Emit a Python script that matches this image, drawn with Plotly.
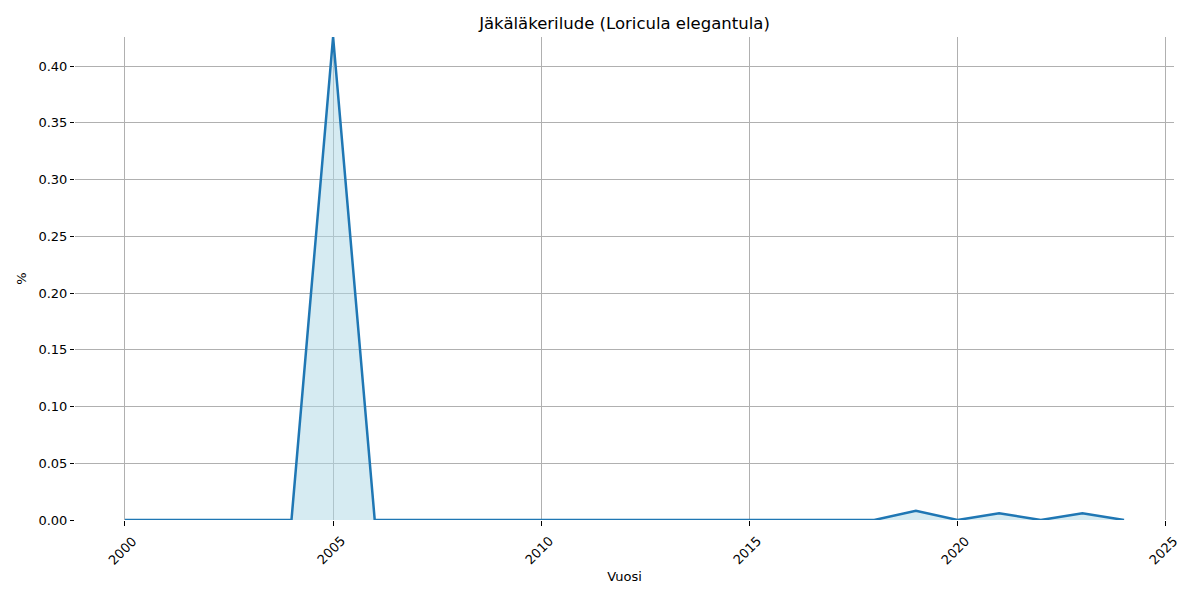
import plotly.graph_objects as go

years = list(range(2000, 2025))
values = [0, 0, 0, 0, 0, 0.4256, 0, 0, 0, 0, 0, 0, 0, 0, 0, 0, 0, 0, 0,
          0.0082, 0, 0.0059, 0, 0.0059, 0]
x_ticks = [2000, 2005, 2010, 2015, 2020, 2025]
y_ticks = [0.0, 0.05, 0.10, 0.15, 0.20, 0.25, 0.30, 0.35, 0.40]

fig = go.Figure()
fig.add_trace(go.Scatter(
    x=years, y=values, mode="lines",
    line=dict(color="#1f77b4", width=2.5),
    fill="tozeroy", fillcolor="rgba(173,216,230,0.5)",
    hoverinfo="x+y", showlegend=False,
))

font = "DejaVu Sans, sans-serif"
W, H = 1192, 592

# rotated x tick labels centred under their ticks (matplotlib style)
for t in x_ticks:
    fig.add_annotation(x=t, xref="x", y=0, yref="paper", text=str(t),
                       textangle=-45, showarrow=False, xanchor="center",
                       yanchor="top", yshift=-11, xshift=-2,
                       font=dict(size=13, family=font, color="black"))

fig.update_layout(
    width=W, height=H,
    margin=dict(l=67, r=26, t=29, b=80, autoexpand=False),
    plot_bgcolor="white", paper_bgcolor="white",
    font=dict(family=font, size=13, color="black"),
    title=dict(text="Jäkäläkerilude (Loricula elegantula)", x=(67 + (W - 26 - 67) / 2) / W,
               xanchor="center", y=1 - 15 / H, yanchor="middle",
               font=dict(size=16.5, family=font)),
    xaxis=dict(
        range=[1998.8, 2025.2], tickvals=x_ticks, showticklabels=False,
        showgrid=True, gridcolor="#b0b0b0", gridwidth=1,
        ticks="outside", ticklen=5, tickcolor="black", showline=False, zeroline=False,
        automargin=False,
        title=dict(text="Vuosi", font=dict(size=13), standoff=46),
    ),
    yaxis=dict(
        range=[0, 0.4256], tickvals=y_ticks, tickformat=".2f",
        showgrid=True, gridcolor="#b0b0b0", gridwidth=1,
        ticks="outside", ticklen=4, tickcolor="black", showline=False, zeroline=False,
        automargin=False,
        title=dict(text="%", font=dict(size=13), standoff=8),
    ),
)

fig.write_html("out.html")
